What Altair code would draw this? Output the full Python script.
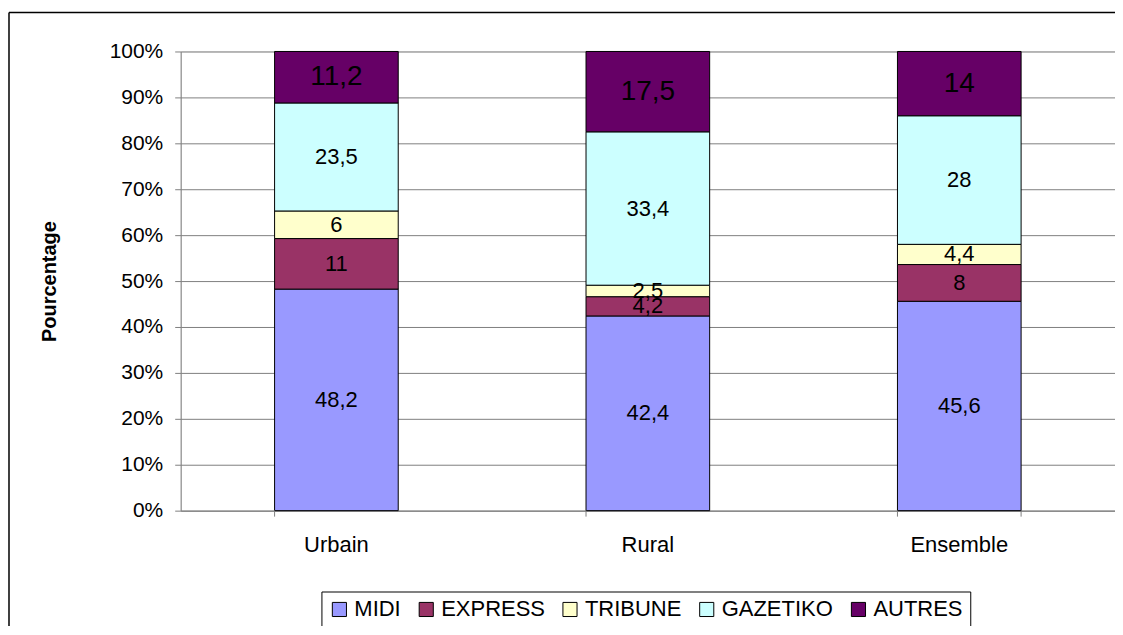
import altair as alt
import pandas as pd

categories = ["Urbain", "Rural", "Ensemble"]
series = ["MIDI", "EXPRESS", "TRIBUNE", "GAZETIKO", "AUTRES"]
colors = ["#9999FF", "#993366", "#FFFFCC", "#CCFFFF", "#660066"]
midi = [48.2, 42.4, 45.6]
express = [11, 4.2, 8]
tribune = [6, 2.5, 4.4]
gazetiko = [23.5, 33.4, 28]
autres = [11.2, 17.5, 14]

vals = [midi, express, tribune, gazetiko, autres]
rows = []
for si, s in enumerate(series):
    for ci, c in enumerate(categories):
        v = vals[si][ci]
        lab = (("%g" % v).replace(".", ","))
        rows.append({"cat": c, "serie": s, "order": si, "value": v, "label": lab,
                     "big": s == "AUTRES"})
df = pd.DataFrame(rows)
cat_df = pd.DataFrame({"cat": categories})
one_df = pd.DataFrame({"k": [0]})

base = alt.Chart(df).transform_stack(
    stack="value", groupby=["cat"], as_=["y0", "y1"], offset="normalize",
    sort=[alt.SortField("order", order="ascending")]
).transform_calculate(mid="(datum.y0 + datum.y1) / 2")

xenc = alt.X("cat:N", sort=categories,
             scale=alt.Scale(paddingInner=0.603, paddingOuter=0.3015),
             axis=alt.Axis(title=None, ticks=False, labelAngle=0, labelFontSize=22,
                           labelPadding=24, labelColor="black", domainColor="#808080",
                           labelFont="Liberation Sans"))

bars = base.mark_bar(stroke="black", strokeWidth=1).encode(
    x=xenc,
    y=alt.Y("y0:Q", scale=alt.Scale(domain=[0, 1]),
            axis=alt.Axis(title="Pourcentage", format="%", values=[i / 10 for i in range(11)],
                          grid=True, gridColor="#808080", domainColor="#808080",
                          tickColor="#808080", tickSize=6, labelFontSize=21,
                          labelPadding=12, labelColor="black", labelFont="Liberation Sans",
                          titleFont="Liberation Sans", titleFontSize=20,
                          titleFontWeight="bold", titleColor="black",
                          titleX=-131, titleY=230, titleBaseline="middle")),
    y2="y1:Q",
    color=alt.Color("serie:N", sort=series,
                    scale=alt.Scale(domain=series, range=colors),
                    legend=alt.Legend(title=None, orient="none", direction="horizontal",
                                      legendX=141, legendY=541, columns=5,
                                      symbolType="square", symbolSize=200,
                                      symbolStrokeColor="black", symbolStrokeWidth=1,
                                      symbolOpacity=1,
                                      labelFontSize=22, labelFont="Liberation Sans",
                                      labelColor="black", columnPadding=14,
                                      strokeColor="black", padding=7,
                                      labelLimit=300)),
)

text_small = base.transform_filter("!datum.big").mark_text(
    fontSize=22, font="Liberation Sans", color="black", baseline="middle"
).encode(x=alt.X("cat:N", sort=categories), y="mid:Q", text="label:N")

text_big = base.transform_filter("datum.big").mark_text(
    fontSize=28, font="Liberation Sans", color="black", baseline="middle"
).encode(x=alt.X("cat:N", sort=categories), y="mid:Q", text="label:N")

ticks0 = alt.Chart(cat_df).mark_rule(color="#808080").encode(
    x=alt.X("cat:N", sort=categories, bandPosition=0),
    y=alt.value(460), y2=alt.value(466))
ticks1 = alt.Chart(cat_df).transform_filter("datum.cat == 'Ensemble'").mark_rule(color="#808080").encode(
    x=alt.X("cat:N", sort=categories, bandPosition=1),
    y=alt.value(460), y2=alt.value(466))

frame_left = alt.Chart(one_df).mark_rule(color="black", strokeWidth=1.5, clip=False).encode(
    x=alt.value(-172), y=alt.value(-39), y2=alt.value(640))
frame_top = alt.Chart(one_df).mark_rule(color="black", strokeWidth=1.5, clip=False).encode(
    x=alt.value(-172), x2=alt.value(1000), y=alt.value(-39))

chart = alt.layer(frame_left, frame_top, bars, text_small, text_big, ticks0, ticks1).properties(
    width=936, height=460,
    autosize=alt.AutoSizeParams(type="none"),
    padding={"left": 173, "top": 43, "right": 0, "bottom": 115},
).configure_view(stroke=None).configure(background="white")

chart.save("out.html", embed_options={"renderer": "svg", "actions": False})
